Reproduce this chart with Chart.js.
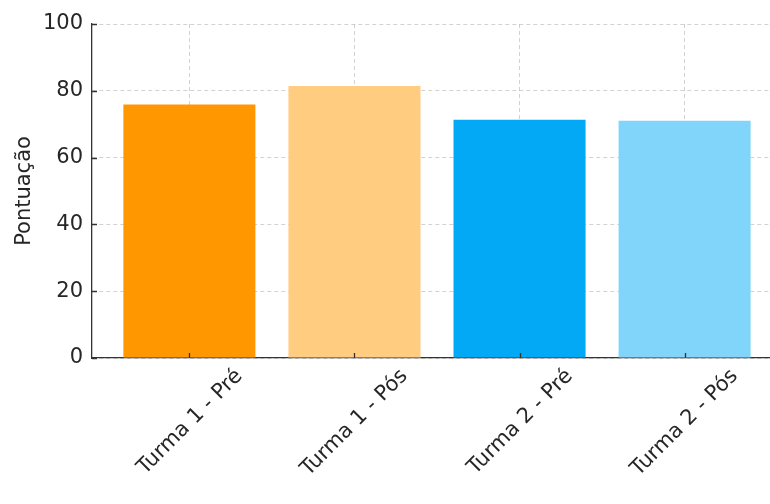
<!DOCTYPE html>
<html>
<head>
<meta charset="utf-8">
<script src="https://cdn.jsdelivr.net/npm/chart.js@4/dist/chart.umd.min.js"></script>
<style>
  html, body { margin: 0; padding: 0; background: #fff; overflow: hidden; }
  #wrap { width: 782px; height: 504px; }
</style>
</head>
<body>
<div id="wrap"><canvas id="myChart" width="782" height="504"></canvas></div>
<script>
const categories = ['Turma 1 - Pré', 'Turma 1 - Pós', 'Turma 2 - Pré', 'Turma 2 - Pós'];
const scores = [75.9, 81.4, 71.3, 71.0];
const barColors = ['#FF9800', '#FFCC80', '#03A9F4', '#81D4FA'];
const yTicks = [0, 20, 40, 60, 80, 100];

Chart.defaults.font.family = "'DejaVu Sans', sans-serif";
Chart.defaults.color = '#262626';

// matplotlib style ticks pointing into the plot
const innerTicks = {
  id: 'innerTicks',
  afterDatasetsDraw(chart) {
    const { ctx, chartArea, scales } = chart;
    ctx.save();
    ctx.strokeStyle = '#333';
    ctx.lineWidth = 1.3;
    ctx.beginPath();
    scales.x.ticks.forEach((t) => {
      const x = Math.round(scales.x.getPixelForValue(t.value)) + 0.5;
      ctx.moveTo(x, chartArea.bottom);
      ctx.lineTo(x, chartArea.bottom - 5);
    });
    scales.y.ticks.forEach((t) => {
      const y = Math.round(scales.y.getPixelForValue(t.value)) + 0.5;
      ctx.moveTo(chartArea.left, y);
      ctx.lineTo(chartArea.left + 5, y);
    });
    ctx.stroke();
    ctx.restore();
  },
};

const ctx = document.getElementById('myChart');

new Chart(ctx, {
  type: 'bar',
  data: {
    datasets: [
      {
        data: categories.map((c, i) => ({ x: i, y: scores[i] })),
        backgroundColor: barColors,
        borderWidth: 0,
        categoryPercentage: 1,
        barPercentage: 0.8,
      },
    ],
  },
  options: {
    responsive: false,
    animation: false,
    layout: { padding: { top: 24, left: 0, right: 0, bottom: 0 } },
    plugins: { legend: { display: false }, tooltip: { enabled: false } },
    scales: {
      x: {
        type: 'linear',
        min: -0.59,
        max: 3.59,
        offset: false,
        afterBuildTicks: (scale) => {
          scale.ticks = categories.map((c, i) => ({ value: i }));
        },
        afterFit: (scale) => {
          scale.height = 146;
        },
        grid: { offset: false, color: 'rgba(180,180,180,0.6)', lineWidth: 1, drawTicks: false },
        border: { color: '#333', width: 1.3, dash: [4, 3] },
        ticks: {
          callback: (v) => categories[v],
          font: { size: 21 },
          minRotation: 45,
          maxRotation: 45,
          labelOffset: 50,
          padding: 6,
          autoSkip: false,
        },
      },
      y: {
        min: 0,
        max: 100,
        afterBuildTicks: (scale) => {
          scale.ticks = yTicks.map((v) => ({ value: v }));
        },
        afterFit: (scale) => {
          scale.width = 92;
        },
        grid: { color: 'rgba(180,180,180,0.6)', lineWidth: 1, drawTicks: false },
        border: { color: '#333', width: 1.3, dash: [4, 3] },
        ticks: { font: { size: 21 }, padding: 9 },
        title: {
          display: true,
          text: 'Pontuação',
          font: { size: 21 },
          padding: { top: 12, bottom: 0 },
        },
      },
    },
  },
  plugins: [innerTicks],
});
</script>
</body>
</html>
